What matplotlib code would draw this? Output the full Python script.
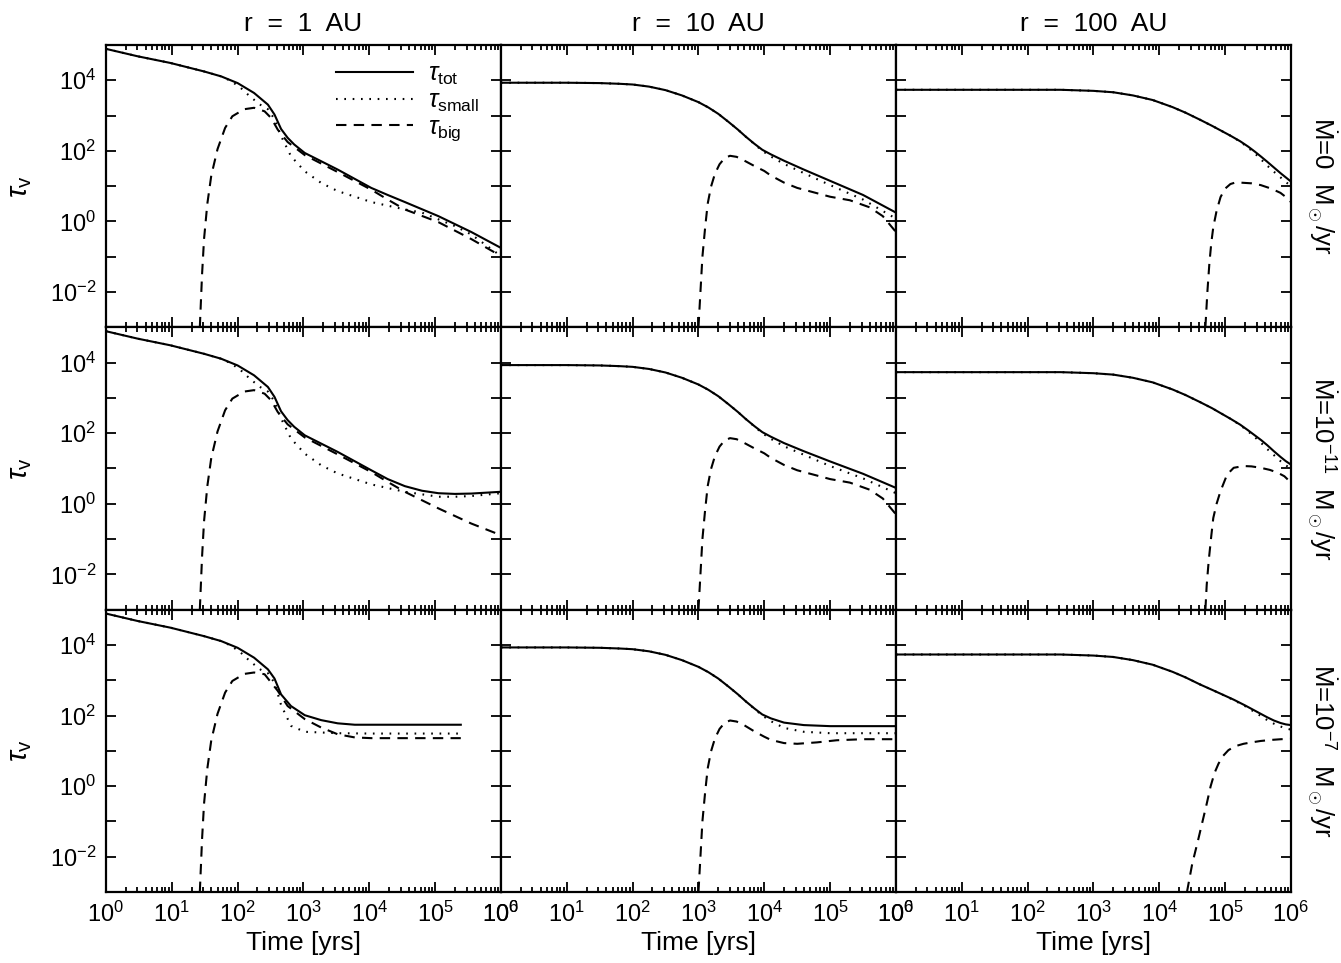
import numpy as np
import matplotlib
matplotlib.use('Agg')
import matplotlib.pyplot as plt
from matplotlib.ticker import FixedLocator, LogLocator, FuncFormatter, NullFormatter, NullLocator

plt.rcParams['font.family'] = ['Liberation Sans', 'DejaVu Sans']
plt.rcParams['mathtext.fontset'] = 'custom'
plt.rcParams['mathtext.rm'] = 'Liberation Sans'
plt.rcParams['mathtext.it'] = 'Liberation Sans:italic'
plt.rcParams['mathtext.sf'] = 'Liberation Sans'

# all values are log10(time [yr]), log10(tau_V)

# ---- r = 1 AU ----
lt_1_tot_a = [0.0, 0.48, 0.98, 1.49, 1.75, 2.0, 2.25, 2.46, 2.56, 2.66, 2.76, 2.86, 3.02, 3.52, 4.03, 4.28, 4.54, 5.05, 5.55, 6.0]
ltau_1_tot_a = [4.89, 4.68, 4.49, 4.25, 4.11, 3.92, 3.64, 3.31, 3.03, 2.62, 2.37, 2.18, 1.94, 1.47, 0.95, 0.75, 0.55, 0.15, -0.30, -0.75]
lt_1_small_a = [0.0, 0.48, 0.98, 1.49, 1.75, 1.9, 2.05, 2.2, 2.35, 2.46, 2.56, 2.66, 2.81, 3.02, 3.27, 3.52, 4.03, 4.54, 4.8, 5.05, 5.3, 5.55, 6.0]
ltau_1_small_a = [4.89, 4.68, 4.49, 4.25, 4.11, 3.98, 3.78, 3.52, 3.3, 3.18, 2.9, 2.42, 1.85, 1.42, 1.09, 0.86, 0.55, 0.34, 0.25, 0.06, -0.13, -0.37, -0.98]
lt_1_big_a = [1.426, 1.46, 1.49, 1.54, 1.6, 1.695, 1.81, 1.92, 2.1, 2.25, 2.41, 2.51, 2.61, 2.76, 3.02, 3.52, 4.03, 4.28, 4.54, 5.05, 5.55, 6.0]
ltau_1_big_a = [-3.0, -1.5, -0.5, 0.5, 1.3, 2.05, 2.65, 2.98, 3.18, 3.22, 3.12, 2.93, 2.6, 2.25, 1.88, 1.4, 0.9, 0.62, 0.34, -0.02, -0.5, -0.98]

lt_1_tot_b = [0.0, 0.48, 0.98, 1.49, 1.75, 2.0, 2.25, 2.46, 2.56, 2.66, 2.76, 2.86, 3.02, 3.52, 4.03, 4.28, 4.54, 4.8, 5.05, 5.3, 5.55, 6.0]
ltau_1_tot_b = [4.89, 4.68, 4.49, 4.25, 4.11, 3.92, 3.64, 3.31, 3.03, 2.62, 2.37, 2.18, 1.94, 1.47, 0.95, 0.7, 0.5, 0.37, 0.3, 0.28, 0.29, 0.34]
lt_1_small_b = [0.0, 0.48, 0.98, 1.49, 1.75, 1.9, 2.05, 2.2, 2.35, 2.46, 2.56, 2.66, 2.81, 3.02, 3.27, 3.52, 4.03, 4.54, 5.05, 5.3, 5.55, 6.0]
ltau_1_small_b = [4.89, 4.68, 4.49, 4.25, 4.11, 3.98, 3.78, 3.52, 3.3, 3.18, 2.9, 2.42, 1.85, 1.42, 1.09, 0.86, 0.55, 0.34, 0.2, 0.2, 0.22, 0.3]
lt_1_big_b = [1.426, 1.46, 1.49, 1.54, 1.6, 1.695, 1.81, 1.92, 2.1, 2.25, 2.41, 2.51, 2.61, 2.76, 3.02, 3.52, 4.03, 4.28, 4.54, 5.05, 5.55, 6.0]
ltau_1_big_b = [-3.0, -1.5, -0.5, 0.5, 1.3, 2.05, 2.65, 2.98, 3.18, 3.22, 3.12, 2.93, 2.6, 2.25, 1.88, 1.4, 0.9, 0.62, 0.34, -0.13, -0.56, -0.89]

lt_1_tot_c = [0.0, 0.48, 0.98, 1.49, 1.75, 2.0, 2.25, 2.46, 2.56, 2.66, 2.81, 3.02, 3.27, 3.52, 3.78, 4.03, 5.39]
ltau_1_tot_c = [4.89, 4.68, 4.49, 4.25, 4.11, 3.92, 3.64, 3.31, 3.05, 2.6, 2.27, 2.01, 1.87, 1.78, 1.74, 1.74, 1.74]
lt_1_small_c = [0.0, 0.48, 0.98, 1.49, 1.75, 1.9, 2.05, 2.2, 2.35, 2.46, 2.56, 2.66, 2.81, 3.02, 3.52, 4.03, 5.39]
ltau_1_small_c = [4.89, 4.68, 4.49, 4.25, 4.11, 3.98, 3.78, 3.52, 3.3, 3.2, 2.93, 2.3, 1.71, 1.54, 1.5, 1.49, 1.49]
lt_1_big_c = [1.426, 1.46, 1.49, 1.54, 1.6, 1.695, 1.81, 1.92, 2.1, 2.25, 2.41, 2.61, 2.76, 3.02, 3.27, 3.52, 3.78, 4.03, 5.39]
ltau_1_big_c = [-3.0, -1.5, -0.5, 0.5, 1.3, 2.05, 2.65, 2.98, 3.18, 3.22, 3.17, 2.7, 2.27, 1.9, 1.66, 1.47, 1.38, 1.36, 1.36]

# ---- r = 10 AU ----
lt_10_tot_a = [0.0, 1.0, 1.5, 1.8, 2.0, 2.25, 2.5, 2.75, 3.0, 3.15, 3.3, 3.45, 3.6, 3.72, 3.85, 3.97, 4.1, 4.3, 4.6, 5.0, 5.5, 6.0]
ltau_10_tot_a = [3.93, 3.93, 3.92, 3.9, 3.88, 3.82, 3.72, 3.57, 3.38, 3.23, 3.05, 2.83, 2.6, 2.4, 2.2, 2.03, 1.9, 1.72, 1.47, 1.15, 0.75, 0.25]
lt_10_small_a = [0.0, 1.0, 1.5, 1.8, 2.0, 2.25, 2.5, 2.75, 3.0, 3.15, 3.3, 3.45, 3.6, 3.72, 3.85, 3.97, 4.1, 4.3, 4.6, 5.0, 5.5, 6.0]
ltau_10_small_a = [3.93, 3.93, 3.92, 3.9, 3.88, 3.82, 3.72, 3.57, 3.38, 3.23, 3.05, 2.83, 2.6, 2.4, 2.19, 2.0, 1.84, 1.63, 1.37, 1.03, 0.62, 0.08]
lt_10_big_a = [3.0, 3.03, 3.06, 3.1, 3.14, 3.19, 3.25, 3.32, 3.4, 3.48, 3.58, 3.7, 3.85, 4.0, 4.1, 4.3, 4.5, 5.0, 5.3, 5.6, 5.8, 6.0]
ltau_10_big_a = [-3.0, -2.0, -1.0, -0.2, 0.5, 0.98, 1.35, 1.62, 1.8, 1.86, 1.83, 1.72, 1.57, 1.43, 1.3, 1.1, 0.95, 0.7, 0.6, 0.4, 0.15, -0.3]

lt_10_tot_b = [0.0, 1.0, 1.5, 1.8, 2.0, 2.25, 2.5, 2.75, 3.0, 3.15, 3.3, 3.45, 3.6, 3.72, 3.85, 3.97, 4.1, 4.3, 4.6, 5.0, 5.5, 6.0]
ltau_10_tot_b = [3.93, 3.93, 3.92, 3.9, 3.88, 3.82, 3.72, 3.57, 3.38, 3.23, 3.05, 2.83, 2.6, 2.4, 2.2, 2.03, 1.9, 1.72, 1.49, 1.2, 0.85, 0.45]
lt_10_small_b = [0.0, 1.0, 1.5, 1.8, 2.0, 2.25, 2.5, 2.75, 3.0, 3.15, 3.3, 3.45, 3.6, 3.72, 3.85, 3.97, 4.1, 4.3, 4.6, 5.0, 5.5, 6.0]
ltau_10_small_b = [3.93, 3.93, 3.92, 3.9, 3.88, 3.82, 3.72, 3.57, 3.38, 3.23, 3.05, 2.83, 2.6, 2.4, 2.19, 2.0, 1.84, 1.63, 1.39, 1.07, 0.72, 0.3]
lt_10_big_b = [3.0, 3.03, 3.06, 3.1, 3.14, 3.19, 3.25, 3.32, 3.4, 3.48, 3.58, 3.7, 3.85, 4.0, 4.1, 4.3, 4.5, 5.0, 5.3, 5.6, 5.8, 6.0]
ltau_10_big_b = [-3.0, -2.0, -1.0, -0.2, 0.5, 0.98, 1.35, 1.62, 1.8, 1.86, 1.83, 1.72, 1.57, 1.43, 1.3, 1.1, 0.95, 0.7, 0.6, 0.4, 0.15, -0.3]

lt_10_tot_c = [0.0, 1.0, 1.5, 1.8, 2.0, 2.25, 2.5, 2.75, 3.0, 3.15, 3.3, 3.45, 3.6, 3.72, 3.85, 3.97, 4.1, 4.3, 4.6, 5.0, 6.0]
ltau_10_tot_c = [3.93, 3.93, 3.92, 3.9, 3.88, 3.82, 3.72, 3.57, 3.38, 3.23, 3.05, 2.83, 2.6, 2.4, 2.2, 2.03, 1.92, 1.8, 1.73, 1.7, 1.7]
lt_10_small_c = [0.0, 1.0, 1.5, 1.8, 2.0, 2.25, 2.5, 2.75, 3.0, 3.15, 3.3, 3.45, 3.6, 3.72, 3.85, 3.97, 4.1, 4.3, 4.6, 5.0, 6.0]
ltau_10_small_c = [3.93, 3.93, 3.92, 3.9, 3.88, 3.82, 3.72, 3.57, 3.38, 3.23, 3.05, 2.83, 2.6, 2.4, 2.19, 2.0, 1.84, 1.65, 1.54, 1.5, 1.5]
lt_10_big_c = [3.0, 3.03, 3.06, 3.1, 3.14, 3.19, 3.25, 3.32, 3.4, 3.48, 3.58, 3.7, 3.85, 4.0, 4.1, 4.3, 4.5, 4.8, 5.1, 5.5, 6.0]
ltau_10_big_c = [-3.0, -2.0, -1.0, -0.2, 0.5, 0.98, 1.35, 1.62, 1.8, 1.86, 1.83, 1.72, 1.55, 1.4, 1.31, 1.22, 1.2, 1.24, 1.3, 1.33, 1.33]

# ---- r = 100 AU ----
lt_100_tot_a = [0.0, 2.0, 2.5, 3.0, 3.3, 3.6, 3.9, 4.2, 4.4, 4.62, 4.8, 4.93, 5.08, 5.23, 5.35, 5.45, 5.55, 5.64, 5.74, 5.84, 5.92, 6.0]
ltau_100_tot_a = [3.73, 3.73, 3.73, 3.7, 3.66, 3.57, 3.44, 3.24, 3.08, 2.88, 2.71, 2.58, 2.43, 2.27, 2.12, 1.98, 1.83, 1.69, 1.53, 1.37, 1.25, 1.13]
lt_100_small_a = [0.0, 2.0, 2.5, 3.0, 3.3, 3.6, 3.9, 4.2, 4.4, 4.62, 4.8, 4.93, 5.08, 5.23, 5.35, 5.45, 5.55, 5.64, 5.74, 5.84, 5.92, 6.0]
ltau_100_small_a = [3.73, 3.73, 3.73, 3.7, 3.66, 3.57, 3.44, 3.24, 3.08, 2.88, 2.71, 2.58, 2.43, 2.26, 2.09, 1.93, 1.75, 1.58, 1.41, 1.25, 1.12, 1.0]
lt_100_big_a = [4.70, 4.73, 4.76, 4.79, 4.82, 4.87, 4.93, 5.0, 5.08, 5.15, 5.23, 5.4, 5.54, 5.7, 5.84, 5.93, 6.0]
ltau_100_big_a = [-3.0, -2.0, -1.2, -0.6, -0.16, 0.3, 0.69, 0.93, 1.06, 1.1, 1.1, 1.08, 1.03, 0.93, 0.81, 0.68, 0.55]

lt_100_tot_b = [0.0, 2.0, 2.5, 3.0, 3.3, 3.6, 3.9, 4.2, 4.4, 4.62, 4.8, 4.93, 5.08, 5.23, 5.35, 5.45, 5.55, 5.64, 5.74, 5.84, 5.92, 6.0]
ltau_100_tot_b = [3.73, 3.73, 3.73, 3.7, 3.66, 3.57, 3.44, 3.24, 3.08, 2.88, 2.71, 2.57, 2.41, 2.24, 2.08, 1.94, 1.8, 1.66, 1.49, 1.33, 1.21, 1.11]
lt_100_small_b = [0.0, 2.0, 2.5, 3.0, 3.3, 3.6, 3.9, 4.2, 4.4, 4.62, 4.8, 4.93, 5.08, 5.23, 5.35, 5.45, 5.55, 5.64, 5.74, 5.84, 5.92, 6.0]
ltau_100_small_b = [3.73, 3.73, 3.73, 3.7, 3.66, 3.57, 3.44, 3.24, 3.08, 2.88, 2.71, 2.57, 2.41, 2.23, 2.05, 1.89, 1.72, 1.55, 1.38, 1.21, 1.09, 1.0]
lt_100_big_b = [4.70, 4.72, 4.75, 4.79, 4.82, 4.87, 4.93, 5.03, 5.13, 5.28, 5.4, 5.54, 5.68, 5.8, 5.9, 5.95]
ltau_100_big_b = [-3.0, -2.3, -1.62, -0.9, -0.4, 0.0, 0.36, 0.83, 1.02, 1.07, 1.06, 1.02, 0.96, 0.88, 0.78, 0.69]

lt_100_tot_c = [0.0, 2.0, 2.5, 3.0, 3.3, 3.6, 3.9, 4.2, 4.4, 4.62, 4.8, 4.93, 5.13, 5.3, 5.43, 5.54, 5.64, 5.74, 5.84, 5.92, 6.0]
ltau_100_tot_c = [3.73, 3.73, 3.73, 3.7, 3.66, 3.57, 3.44, 3.24, 3.08, 2.88, 2.73, 2.62, 2.45, 2.29, 2.16, 2.05, 1.95, 1.86, 1.79, 1.75, 1.73]
lt_100_small_c = [0.0, 2.0, 2.5, 3.0, 3.3, 3.6, 3.9, 4.2, 4.4, 4.62, 4.8, 4.93, 5.13, 5.3, 5.43, 5.54, 5.64, 5.74, 5.84, 5.92, 6.0]
ltau_100_small_c = [3.73, 3.73, 3.73, 3.7, 3.66, 3.57, 3.44, 3.24, 3.08, 2.88, 2.73, 2.62, 2.44, 2.27, 2.12, 1.99, 1.87, 1.77, 1.69, 1.64, 1.6]
lt_100_big_c = [4.42, 4.5, 4.58, 4.65, 4.72, 4.78, 4.84, 4.9, 4.97, 5.05, 5.15, 5.28, 5.4, 5.54, 5.7, 5.85, 6.0]
ltau_100_big_c = [-3.0, -2.2, -1.6, -1.05, -0.5, 0.0, 0.38, 0.64, 0.86, 1.02, 1.13, 1.2, 1.24, 1.28, 1.31, 1.33, 1.34]

col_titles = ['r  =  1  AU', 'r  =  10  AU', 'r  =  100  AU']
row_labels = [r'$\dot{\rm M}$=0  M$_\odot$/yr',
              r'$\dot{\rm M}$=10$^{-11}$  M$_\odot$/yr',
              r'$\dot{\rm M}$=10$^{-7}$  M$_\odot$/yr']
legend_labels = [r'$\tau_{\rm tot}$', r'$\tau_{\rm small}$', r'$\tau_{\rm big}$']

panels = {
    (0, 0): [(lt_1_tot_a, ltau_1_tot_a), (lt_1_small_a, ltau_1_small_a), (lt_1_big_a, ltau_1_big_a)],
    (1, 0): [(lt_1_tot_b, ltau_1_tot_b), (lt_1_small_b, ltau_1_small_b), (lt_1_big_b, ltau_1_big_b)],
    (2, 0): [(lt_1_tot_c, ltau_1_tot_c), (lt_1_small_c, ltau_1_small_c), (lt_1_big_c, ltau_1_big_c)],
    (0, 1): [(lt_10_tot_a, ltau_10_tot_a), (lt_10_small_a, ltau_10_small_a), (lt_10_big_a, ltau_10_big_a)],
    (1, 1): [(lt_10_tot_b, ltau_10_tot_b), (lt_10_small_b, ltau_10_small_b), (lt_10_big_b, ltau_10_big_b)],
    (2, 1): [(lt_10_tot_c, ltau_10_tot_c), (lt_10_small_c, ltau_10_small_c), (lt_10_big_c, ltau_10_big_c)],
    (0, 2): [(lt_100_tot_a, ltau_100_tot_a), (lt_100_small_a, ltau_100_small_a), (lt_100_big_a, ltau_100_big_a)],
    (1, 2): [(lt_100_tot_b, ltau_100_tot_b), (lt_100_small_b, ltau_100_small_b), (lt_100_big_b, ltau_100_big_b)],
    (2, 2): [(lt_100_tot_c, ltau_100_tot_c), (lt_100_small_c, ltau_100_small_c), (lt_100_big_c, ltau_100_big_c)],
}

styles = ['-', (0, (0.8, 3.2)), (0, (5, 3.5))]

fig, axes = plt.subplots(3, 3, figsize=(13.41, 9.63), dpi=100)
fig.subplots_adjust(left=0.079, right=0.9627, top=0.9533, bottom=0.0737, wspace=0, hspace=0)


def ylab(v, pos):
    e = int(round(np.log10(v)))
    if e in (-2, 0, 2, 4):
        return r'$10^{%d}$' % e
    return ''


def xlab(v, pos):
    e = int(round(np.log10(v)))
    return r'$10^{%d}$' % e


for (r, c), series in panels.items():
    ax = axes[r, c]
    lines = []
    for (lt, ltau), ls in zip(series, styles):
        ln, = ax.plot(10**np.array(lt), 10**np.array(ltau), color='black', lw=1.5, linestyle=ls)
        lines.append(ln)
    ax.set_xscale('log')
    ax.set_yscale('log')
    ax.set_xlim(1, 1e6)
    ax.set_ylim(1e-3, 1e5)
    ax.xaxis.set_major_locator(LogLocator(base=10, numticks=10))
    ax.xaxis.set_minor_locator(LogLocator(base=10, subs=np.arange(2, 10), numticks=20))
    ax.xaxis.set_minor_formatter(NullFormatter())
    ax.yaxis.set_major_locator(FixedLocator([10.0**e for e in range(-3, 6)]))
    ax.yaxis.set_minor_locator(NullLocator())
    ax.tick_params(which='both', direction='in', top=True, right=True, width=1.3, labelsize=17)
    ax.tick_params(which='major', length=7.5, pad=7)
    ax.tick_params(which='minor', length=3.5)
    for s in ax.spines.values():
        s.set_linewidth(1.6)
    if c == 0:
        ax.yaxis.set_major_formatter(FuncFormatter(ylab))
        ax.set_ylabel(r'$\tau_{\rm v}$', fontsize=21, labelpad=11)
    else:
        ax.yaxis.set_major_formatter(NullFormatter())
    if r == 2:
        ax.xaxis.set_major_formatter(FuncFormatter(xlab))
        ax.set_xlabel('Time [yrs]', fontsize=19, labelpad=3)
    else:
        ax.xaxis.set_major_formatter(NullFormatter())
    if r == 0:
        ax.set_title(col_titles[c], fontsize=19, pad=10)
    if c == 2:
        ax.text(1.077, 0.5, row_labels[r], transform=ax.transAxes, rotation=-90,
                ha='center', va='center', fontsize=18.5)
    if (r, c) == (0, 0):
        ax.legend(lines, legend_labels, loc='upper right', bbox_to_anchor=(0.97, 0.975),
                  frameon=False, fontsize=18, handlelength=3.1, labelspacing=0.05,
                  handletextpad=0.6, borderaxespad=0)

fig.savefig('out.png', dpi=100)
